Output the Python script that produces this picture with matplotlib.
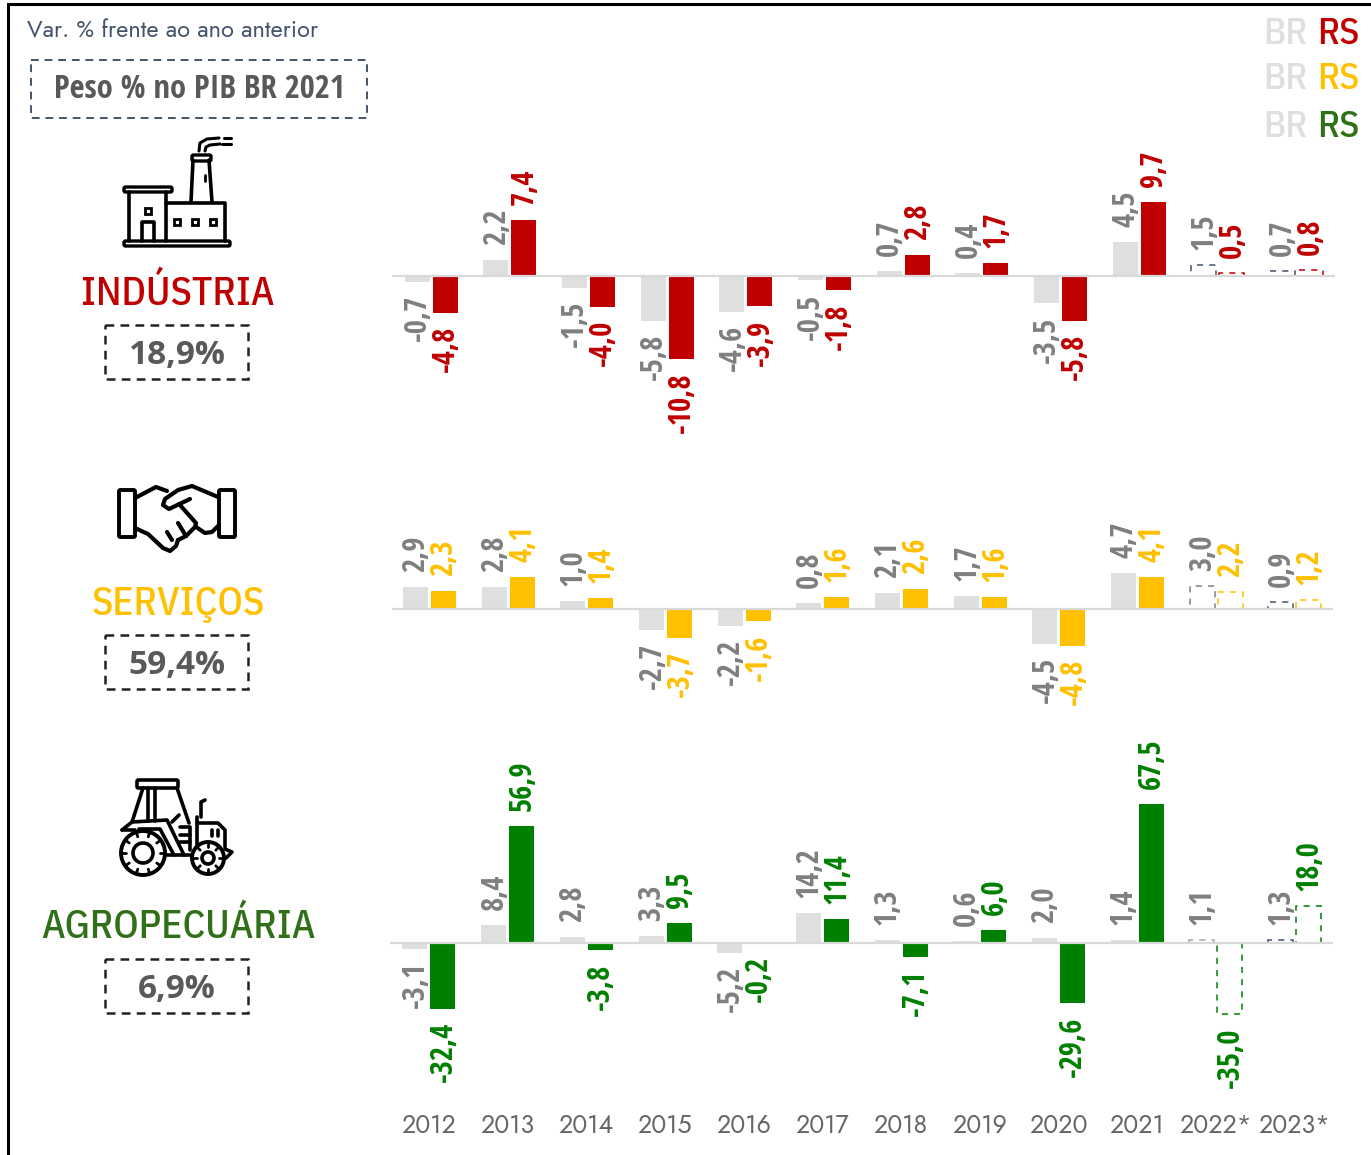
import matplotlib
matplotlib.use('Agg')
import matplotlib.pyplot as plt
from matplotlib.patches import Rectangle, FancyBboxPatch, Circle
import numpy as np

anos = ['2012', '2013', '2014', '2015', '2016', '2017', '2018', '2019', '2020', '2021', '2022*', '2023*']

ind_br = [-0.7, 2.2, -1.5, -5.8, -4.6, -0.5, 0.7, 0.4, -3.5, 4.5, 1.5, 0.7]
ind_rs = [-4.8, 7.4, -4.0, -10.8, -3.9, -1.8, 2.8, 1.7, -5.8, 9.7, 0.5, 0.8]
ser_br = [2.9, 2.8, 1.0, -2.7, -2.2, 0.8, 2.1, 1.7, -4.5, 4.7, 3.0, 0.9]
ser_rs = [2.3, 4.1, 1.4, -3.7, -1.6, 1.6, 2.6, 1.6, -4.8, 4.1, 2.2, 1.2]
agr_br = [-3.1, 8.4, 2.8, 3.3, -5.2, 14.2, 1.3, 0.6, 2.0, 1.4, 1.1, 1.3]
agr_rs = [-32.4, 56.9, -3.8, 9.5, -0.2, 11.4, -7.1, 6.0, -29.6, 67.5, -35.0, 18.0]

W, H = 1371, 1155
ROTULO = ['Open Sans Condensed', 'Roboto Condensed', 'DejaVu Sans']
TITULO = ['IBM Plex Sans Condensed', 'Roboto Condensed', 'DejaVu Sans']
GEO = ['Jost', 'Lato', 'DejaVu Sans']
CINZA = '#DFDFDF'
VERMELHO = '#C00000'
AMARELO = '#FFC000'
VERDE = '#008000'
VERDE_TIT = '#2F7018'
AZUL = '#44546A'
PASSO = 78.67  # px entre anos

fig = plt.figure(figsize=(W / 100, H / 100), dpi=100)

# camada de fundo em pixels, para caixas, icones e titulos
bg = fig.add_axes([0, 0, 1, 1])
bg.set_xlim(0, W)
bg.set_ylim(H, 0)
bg.axis('off')


def painel(br, rs, cor, esq, dir_, topo, base, zero, escala, centro0, cor_prev_br):
    ax = fig.add_axes([esq / W, 1 - base / H, (dir_ - esq) / W, (base - topo) / H])
    ax.patch.set_alpha(0)
    ax.set_xlim((esq - centro0) / PASSO, (dir_ - centro0) / PASSO)
    ax.set_ylim((zero - base) / escala, (zero - topo) / escala)
    for s in ax.spines.values():
        s.set_visible(False)
    ax.set_yticks([])
    ax.set_xticks([])
    x = np.arange(len(anos))
    larg = 25 / PASSO
    desl = 14 / PASSO
    for i in x:
        prev = i >= 10
        if prev:
            ax.bar(i - desl, br[i], larg, fill=False, edgecolor=cor_prev_br[i - 10], linewidth=1.1,
                   linestyle=(0, (4, 4)), zorder=2)
            ax.bar(i + desl, rs[i], larg, fill=False, edgecolor=cor, linewidth=1.1,
                   linestyle=(0, (4, 4)), zorder=2)
        else:
            ax.bar(i - desl, br[i], larg, color=CINZA, zorder=2)
            ax.bar(i + desl, rs[i], larg, color=cor, zorder=2)
        for xx, v, c in [(i - desl, br[i], '#7F7F7F'), (i + desl, rs[i], cor)]:
            ax.annotate(f'{v:.1f}'.replace('.', ','), (xx, v), xytext=(1, 15 if v >= 0 else -13),
                        textcoords='offset pixels', rotation=90, ha='center',
                        va='bottom' if v >= 0 else 'top', color=c, fontsize=22,
                        fontweight='bold', family=ROTULO, annotation_clip=False)
    ax.axhline(0, color='#D9D9D9', lw=1.6, zorder=3)
    return ax


painel(ind_br, ind_rs, VERMELHO, 392, 1335, 130, 445, 276.5, 7.65, 431, [AZUL, AZUL])
painel(ser_br, ser_rs, AMARELO, 392, 1333, 520, 715, 609, 7.75, 429.5, ['#7F7F7F', AZUL])
ax3 = painel(agr_br, agr_rs, VERDE, 390, 1333, 740, 1106, 942.5, 2.05, 429, ['#A6A6A6', AZUL])
ax3.set_xticks(np.arange(len(anos)))
ax3.set_xticklabels(anos, fontsize=18, color='#666666', family=GEO, fontweight='light')
ax3.tick_params(axis='x', length=0, pad=5)

# moldura
bg.plot([8, 8, W], [H, 3.5, 3.5], color='black', lw=2.2, solid_joinstyle='miter')

# textos do cabecalho
bg.text(27, 30, 'Var. % frente ao ano anterior', color=AZUL, fontsize=17, family=GEO, fontweight='light', va='center')
bg.add_patch(Rectangle((31, 60), 336, 58, fill=False, ec=AZUL, lw=1.4, ls=(0, (4, 3))))
bg.text(199, 90, 'Peso % no PIB BR 2021', color='#595959', fontsize=23.5, fontweight='bold',
        family=ROTULO, ha='center', va='center')

# legenda
for y, c in [(34, VERMELHO), (79, AMARELO), (127, VERDE_TIT)]:
    bg.text(1285, y, 'BR', color=CINZA, fontsize=27, fontweight='medium', family=TITULO, ha='center', va='center')
    bg.text(1338, y, 'RS', color=c, fontsize=27, fontweight='medium', family=TITULO, ha='center', va='center')

# nomes dos setores e pesos
setores = [('INDÚSTRIA', VERMELHO, 305, 325, '18,9%'),
           ('SERVIÇOS', AMARELO, 615, 635, '59,4%'),
           ('AGROPECUÁRIA', VERDE_TIT, 938, 959, '6,9%')]
for nome, c, base_y, caixa_y, peso in setores:
    bg.text(178, base_y, nome, color=c, fontsize=28.5, fontweight='medium', family=TITULO, ha='center', va='baseline')
    bg.add_patch(Rectangle((105, caixa_y), 143, 54, fill=False, ec='#222222', lw=1.8, ls=(0, (3.5, 2.5))))
    bg.text(177, caixa_y + 30, peso, color='#595959', fontsize=24, fontweight='bold',
            family=['Open Sans', 'DejaVu Sans'], ha='center', va='center')


def linha(pts, lw=2.6):
    xs, ys = zip(*pts)
    bg.plot(xs, ys, color='black', lw=lw, solid_capstyle='round', solid_joinstyle='round')


def caixa(x0, y0, x1, y1, lw=2.4):
    bg.add_patch(FancyBboxPatch((x0, y0), x1 - x0, y1 - y0, boxstyle='round,pad=0,rounding_size=1.5',
                                fill=False, ec='black', lw=lw))


# icone fabrica
caixa(124, 241, 230, 246)
caixa(124, 187, 172, 192)
linha([(129, 192), (129, 241)])
linha([(166, 192), (166, 241)])
linha([(166, 203), (225, 203), (225, 241)])
linha([(191, 202), (193, 160)])
linha([(212, 202), (209, 160)])
caixa(192, 155, 211, 161)
linha([(205, 175), (205, 181)], 2)
linha([(199, 151), (200, 143), (207, 139), (219, 138)], 2.2)
linha([(205, 151), (206, 147), (210, 145), (220, 144)], 2.2)
linha([(224, 138), (231, 138)], 2.2)
linha([(222, 144), (231, 144)], 2.2)
for xq, yq in [(148, 211), (177, 222), (195, 222), (213, 222)]:
    bg.add_patch(Rectangle((xq - 3, yq - 3), 6, 6, fill=False, ec='black', lw=2))
linha([(142, 241), (142, 222), (154, 222), (154, 241)])

# icone aperto de maos
caixa(119, 490, 135, 537, 2.8)
caixa(219, 490, 235, 537, 2.8)
linha([(135, 498), (156, 487), (167, 491)], 3)
linha([(218, 497), (192, 486), (178, 490), (165, 499), (163, 505), (169, 509), (190, 499)], 3)
linha([(179, 504), (196, 523), (195, 527), (186, 536)], 3)
linha([(196, 527), (205, 533), (212, 532), (219, 525)], 3)
linha([(135, 528), (148, 534), (163, 548), (170, 551), (176, 546), (178, 540)], 3)
linha([(172, 540), (167, 532)], 3)
linha([(178, 540), (186, 536), (178, 523)], 3)

# icone trator
caixa(137, 780, 178, 788, 2.6)
linha([(143, 788), (132, 822)])
linha([(148, 788), (148, 821)])
linha([(155, 788), (155, 821)])
linha([(177, 788), (189, 823)])
linha([(122, 830), (132, 822), (167, 820), (184, 855)])
linha([(122, 830), (135, 830)])
linha([(139, 829), (160, 829), (174, 855)])
linha([(197, 823), (218, 823), (225, 830), (225, 847)])
linha([(197, 817), (197, 847)])
linha([(201, 817), (201, 802), (205, 800)])
linha([(180, 827), (190, 827), (190, 850)])
linha([(180, 835), (190, 835)])
linha([(180, 842), (190, 842)])
linha([(172, 822), (179, 815)])
linha([(225, 849), (232, 852), (226, 858)])
linha([(167, 855), (190, 855)])
linha([(212, 830), (212, 836)])
linha([(218, 830), (218, 836)])
for cx, cy, r1, r2, n in [(143, 853, 22, 10, 10), (208, 858, 16, 6, 8)]:
    bg.add_patch(Circle((cx, cy), r1, fill=False, ec='black', lw=2.8, zorder=4))
    bg.add_patch(Circle((cx, cy), r2, fill=False, ec='black', lw=2.6, zorder=4))
    for a in np.linspace(0, 2 * np.pi, n, endpoint=False):
        linha([(cx + (r1 - 5) * np.cos(a), cy + (r1 - 5) * np.sin(a)),
               (cx + (r1 - 1) * np.cos(a), cy + (r1 - 1) * np.sin(a))], 2)

fig.savefig('out.png', dpi=100)
